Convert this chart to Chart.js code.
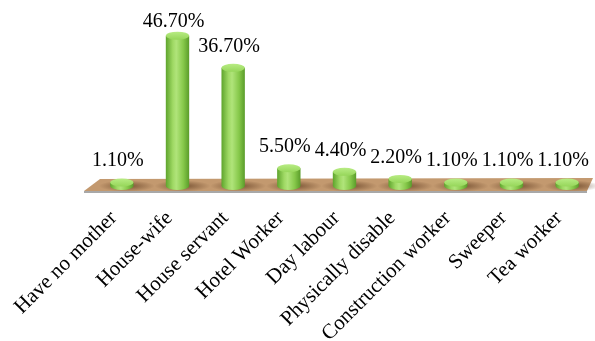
<!DOCTYPE html>
<html>
<head>
<meta charset="utf-8">
<script src="https://cdn.jsdelivr.net/npm/chart.js@4.4.0/dist/chart.umd.min.js"></script>
<style>
  html, body { margin: 0; padding: 0; background: #fff; }
  #wrap { width: 595px; height: 341px; }
</style>
</head>
<body>
<div id="wrap"><canvas id="chart" width="595" height="341"></canvas></div>
<script>
// Data
const categories = ["Have no mother", "House-wife", "House servant", "Hotel Worker", "Day labour",
    "Physically disable", "Construction worker", "Sweeper", "Tea worker"];
const values = [1.1, 46.7, 36.7, 5.5, 4.4, 2.2, 1.1, 1.1, 1.1];
const valueLabels = ["1.10%", "46.70%", "36.70%", "5.50%", "4.40%", "2.20%", "1.10%", "1.10%", "1.10%"];

const serif = "'Times New Roman', 'Liberation Serif', serif";

// Floor (brown slab under the bars)
const floorPlugin = {
    id: "floor",
    beforeDatasetsDraw(chart) {
        const ctx = chart.ctx;
        const xs = chart.scales.x;
        const b = chart.scales.y.getPixelForValue(0);
        ctx.save();
        ctx.fillStyle = "#a8a8a8";
        ctx.beginPath();
        ctx.moveTo(xs.left - 10, b + 5);
        ctx.lineTo(xs.right - 8, b + 5);
        ctx.lineTo(xs.right - 8, b + 7);
        ctx.lineTo(xs.left - 10, b + 7);
        ctx.closePath();
        ctx.fill();
        ctx.fillStyle = "#c3996f";
        ctx.beginPath();
        ctx.moveTo(xs.left + 6, b - 7);
        ctx.lineTo(xs.right - 2, b - 8);
        ctx.lineTo(xs.right - 8, b + 5);
        ctx.lineTo(xs.left - 10, b + 5);
        ctx.closePath();
        ctx.fill();
        ctx.restore();
    }
};

// Cylinders + value labels
const cylinderPlugin = {
    id: "cylinders",
    afterDatasetsDraw(chart) {
        const ctx = chart.ctx;
        const meta = chart.getDatasetMeta(0);
        ctx.save();
        meta.data.forEach((bar, i) => {
            const cx = bar.x, top = bar.y, base = bar.base;
            const rx = bar.width / 2, ry = 4;

            // shadow on the floor
            const sg = ctx.createRadialGradient(cx + 5, base, 2, cx + 5, base, 28);
            sg.addColorStop(0, "rgba(80,45,20,0.6)");
            sg.addColorStop(1, "rgba(80,45,20,0)");
            ctx.save();
            ctx.translate(cx + 5, base);
            ctx.scale(1, 0.2);
            ctx.translate(-(cx + 5), -base);
            ctx.fillStyle = sg;
            ctx.beginPath();
            ctx.arc(cx + 5, base, 28, 0, Math.PI * 2);
            ctx.fill();
            ctx.restore();

            // body
            const g = ctx.createLinearGradient(cx - rx, 0, cx + rx, 0);
            g.addColorStop(0, "#5ea42c");
            g.addColorStop(0.3, "#9fd964");
            g.addColorStop(0.45, "#b0e47a");
            g.addColorStop(0.75, "#86c84a");
            g.addColorStop(1, "#5a9c2a");
            ctx.fillStyle = g;
            ctx.beginPath();
            ctx.moveTo(cx - rx, top);
            ctx.lineTo(cx - rx, base);
            ctx.ellipse(cx, base, rx, ry, 0, Math.PI, 0, true);
            ctx.lineTo(cx + rx, top);
            ctx.closePath();
            ctx.fill();

            // top cap
            const tg = ctx.createLinearGradient(0, top - ry, 0, top + ry);
            tg.addColorStop(0, "#b8ec84");
            tg.addColorStop(1, "#96d65a");
            ctx.fillStyle = tg;
            ctx.beginPath();
            ctx.ellipse(cx, top, rx, ry, 0, 0, Math.PI * 2);
            ctx.fill();

            // value label
            ctx.fillStyle = "#000";
            ctx.font = "20px " + serif;
            ctx.textAlign = "center";
            ctx.textBaseline = "alphabetic";
            ctx.fillText(valueLabels[i], cx - 4, Math.max(top - 16, 27));
        });
        ctx.restore();
    }
};

const ctx = document.getElementById("chart").getContext("2d");
const chart = new Chart(ctx, {
    type: "bar",
    data: {
        labels: categories,
        datasets: [{
            data: values,
            backgroundColor: "rgba(0,0,0,0)",
            categoryPercentage: 1,
            barPercentage: 0.42
        }]
    },
    options: {
        responsive: false,
        animation: false,
        devicePixelRatio: 1,
        layout: { padding: { left: 94, right: -2, top: 25, bottom: 0 } },
        plugins: { legend: { display: false }, tooltip: { enabled: false } },
        scales: {
            x: {
                grid: { display: false, drawTicks: false },
                border: { display: false },
                ticks: {
                    autoSkip: false,
                    minRotation: 45,
                    maxRotation: 45,
                    padding: 20,
                    labelOffset: -8,
                    color: "#000",
                    font: { family: serif, size: 21 }
                },
                afterFit: (scale) => {
                    scale.height = 155;
                    scale.paddingLeft = 0;
                    scale.paddingRight = 0;
                }
            },
            y: {
                display: false,
                min: 0,
                max: 50
            }
        }
    },
    plugins: [floorPlugin, cylinderPlugin]
});
</script>
</body>
</html>
